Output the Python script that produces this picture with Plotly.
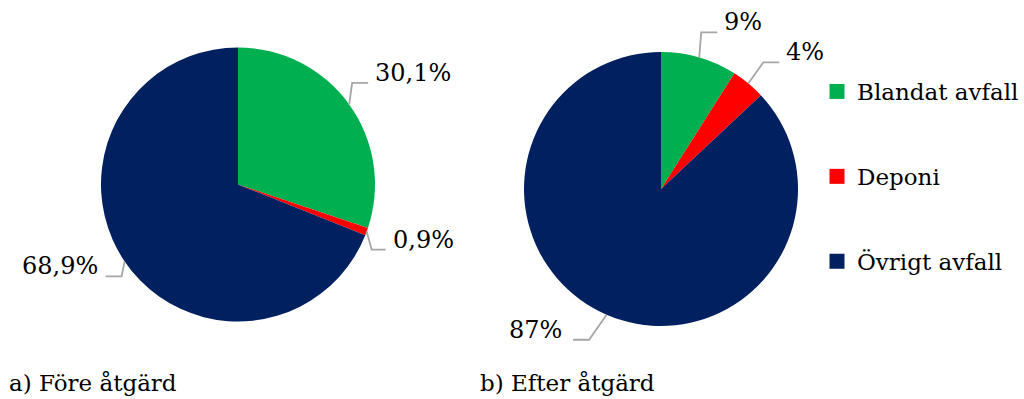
import math
import plotly.graph_objects as go

# ---- data ----
categories = ["Blandat avfall", "Deponi", "Övrigt avfall"]
before_values = [30.1, 0.9, 68.9]
before_labels = ["30,1%", "0,9%", "68,9%"]
after_values = [9, 4, 87]
after_labels = ["9%", "4%", "87%"]
captions = ["a) Före åtgärd", "b) Efter åtgärd"]

colors = ["#00B050", "#FF0000", "#002060"]
W, H = 1024, 399
FONT = "DejaVu Serif"
FS = 24
FS_SMALL = 23
LINE_COLOR = "#A6A6A6"

# pie geometry (pixels)
pies = [
    dict(cx=238, cy=184.5, r=137, values=before_values, labels=before_labels,
         # (elbow dx, elbow dy, horizontal length, text gap)
         leaders=[(3, -21.5, 16, 5), (5, 18, 14, 5), (-3, 15, -16, 6)]),
    dict(cx=661, cy=189, r=137, values=after_values, labels=after_labels,
         leaders=[(2, -25, 16, 5), (15, -21, 16, 5), (-17.5, 25, -16, 9)]),
]


def px(x):
    return x / W


def py(y):
    return 1 - y / H


fig = go.Figure()
shapes = []
annotations = []

for p in pies:
    cx, cy, r = p["cx"], p["cy"], p["r"]
    fig.add_trace(go.Pie(
        labels=categories, values=p["values"], sort=False,
        direction="clockwise", rotation=0,
        marker=dict(colors=colors, line=dict(width=0)),
        textinfo="none", hoverinfo="label+percent", showlegend=False,
        domain=dict(x=[px(cx - r), px(cx + r)], y=[py(cy + r), py(cy - r)]),
    ))
    total = sum(p["values"])
    cum = 0
    for v, lab, (dx, dy, hl, gap) in zip(p["values"], p["labels"], p["leaders"]):
        mid = (cum + v / 2) / total * 2 * math.pi
        cum += v
        ax = cx + r * math.sin(mid)
        ay = cy - r * math.cos(mid)
        ex, ey = ax + dx, ay + dy
        hx = ex + hl
        shapes.append(dict(type="path", xref="paper", yref="paper",
                           path=f"M {px(ax)} {py(ay)} L {px(ex)} {py(ey)} L {px(hx)} {py(ey)}",
                           line=dict(color=LINE_COLOR, width=1.8)))
        if hl > 0:
            tx, anchor = hx + gap, "left"
        else:
            tx, anchor = hx - gap, "right"
        annotations.append(dict(x=px(tx), y=py(ey - 10), xref="paper", yref="paper",
                                text=lab, showarrow=False, xanchor=anchor, yanchor="middle",
                                font=dict(family=FONT, size=FS, color="#000000")))

# legend via marker-only traces
for name, c in zip(categories, colors):
    fig.add_trace(go.Scatter(x=[None], y=[None], mode="markers", name=name,
                             legendgroup=name,
                             marker=dict(symbol="square", size=15, color=c)))

annotations.append(dict(x=px(7), y=py(383), xref="paper", yref="paper", text=captions[0],
                        showarrow=False, xanchor="left", yanchor="middle",
                        font=dict(family=FONT, size=FS_SMALL, color="#000000")))
annotations.append(dict(x=px(478), y=py(383), xref="paper", yref="paper", text=captions[1],
                        showarrow=False, xanchor="left", yanchor="middle",
                        font=dict(family=FONT, size=FS_SMALL, color="#000000")))

fig.update_layout(
    width=W, height=H,
    margin=dict(l=0, r=0, t=0, b=0, autoexpand=False),
    paper_bgcolor="white", plot_bgcolor="white",
    xaxis=dict(visible=False), yaxis=dict(visible=False),
    shapes=shapes, annotations=annotations,
    legend=dict(x=px(817), y=py(70), xanchor="left", yanchor="top",
                font=dict(family=FONT, size=FS_SMALL, color="#000000"),
                tracegroupgap=52, itemclick=False, bgcolor="rgba(0,0,0,0)"),
    showlegend=True,
)

fig.write_html("out.html", config={"displayModeBar": False})
